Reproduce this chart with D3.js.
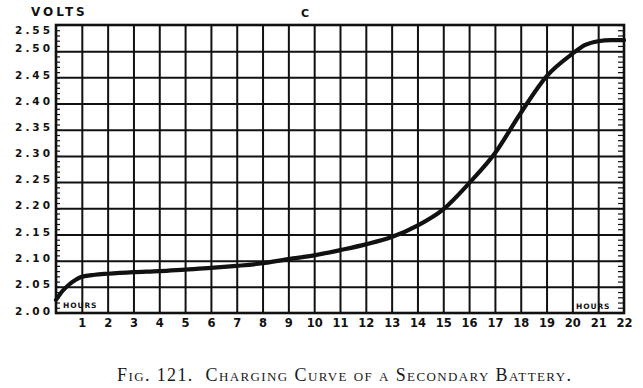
<!DOCTYPE html>
<html><head><meta charset="utf-8">
<script src="https://cdn.jsdelivr.net/npm/d3@7"></script>
<style>body{margin:0;background:#fff} svg{display:block}</style>
</head><body>
<svg id="c" width="643" height="388"></svg>
<script>
// ---- data ----
const hours = [0, 0.25, 0.5, 0.75, 1, 1.5, 2, 3, 4, 5, 6, 7, 8, 9, 10, 11, 12, 13, 14, 15, 16, 17, 18, 19, 20, 20.5, 21, 21.5, 22];
const volts = [2.025, 2.042, 2.054, 2.063, 2.069, 2.073, 2.075, 2.078, 2.080, 2.083, 2.086, 2.090, 2.095, 2.103, 2.110, 2.120, 2.131, 2.145, 2.167, 2.198, 2.248, 2.305, 2.382, 2.452, 2.495, 2.512, 2.519, 2.521, 2.521];
const voltTicks = [2.00, 2.05, 2.10, 2.15, 2.20, 2.25, 2.30, 2.35, 2.40, 2.45, 2.50, 2.55];
const voltLabels = ["2.00", "2.05", "2.10", "2.15", "2.20", "2.25", "2.30", "2.35", "2.40", "2.45", "2.50", "2.55"];
const hourTicks = [1, 2, 3, 4, 5, 6, 7, 8, 9, 10, 11, 12, 13, 14, 15, 16, 17, 18, 19, 20, 21, 22];
const hourLabels = ["1", "2", "3", "4", "5", "6", "7", "8", "9", "10", "11", "12", "13", "14", "15", "16", "17", "18", "19", "20", "21", "22"];
const minorVoltTicks = d3.range(0, 56).map(i => 2.00 + i * 0.01);

// ---- layout ----
const L = 56, R = 624, T = 25, B = 313;
const ink = "#111";
const svg = d3.select("#c");
svg.append("rect").attr("width", 643).attr("height", 388).attr("fill", "#fff");

const x = d3.scaleLinear().domain([0, 22]).range([L, R]);
const y = d3.scaleLinear().domain([2.00, 2.55]).range([B, T]);

// grid: vertical (hours)
const gx = svg.append("g").attr("transform", `translate(0,${B})`)
  .call(d3.axisBottom(x).tickValues(hourTicks.slice(0, -1)).tickSize(-(B - T)).tickFormat(""));
gx.select(".domain").remove();
gx.selectAll(".tick line").attr("stroke", ink).attr("stroke-width", 2);

// grid: horizontal (volts)
const gy = svg.append("g").attr("transform", `translate(${L},0)`)
  .call(d3.axisLeft(y).tickValues(voltTicks.slice(1, -1)).tickSize(-(R - L)).tickFormat(""));
gy.select(".domain").remove();
gy.selectAll(".tick line").attr("stroke", ink).attr("stroke-width", 2);

// minor ticks left (inside) and right (inside)
const ml = svg.append("g").attr("transform", `translate(${L},0)`)
  .call(d3.axisRight(y).tickValues(minorVoltTicks).tickSize(4).tickFormat(""));
ml.select(".domain").remove();
ml.selectAll(".tick line").attr("stroke", ink).attr("stroke-width", 1.2);
const mr = svg.append("g").attr("transform", `translate(${R},0)`)
  .call(d3.axisLeft(y).tickValues(minorVoltTicks).tickSize(6).tickFormat(""));
mr.select(".domain").remove();
mr.selectAll(".tick line").attr("stroke", ink).attr("stroke-width", 1.2);

// frame
svg.append("rect").attr("x", L).attr("y", T).attr("width", R - L).attr("height", B - T)
  .attr("fill", "none").attr("stroke", ink).attr("stroke-width", 2.6);

// y labels
const yl = svg.append("g").attr("transform", `translate(${L - 5},0)`)
  .call(d3.axisLeft(y).tickValues(voltTicks).tickSize(0).tickFormat((d, i) => voltLabels[i]));
yl.select(".domain").remove();
yl.selectAll(".tick text")
  .attr("fill", ink).attr("font-family", "DejaVu Sans").attr("font-weight", "bold")
  .attr("font-size", 10.5).attr("letter-spacing", 3).attr("x", 2)
  .attr("y", d => d === 2.55 ? 5 : (d === 2.00 ? -2 : -3))
  .attr("dy", "0.35em");

// x labels
const xl = svg.append("g").attr("transform", `translate(0,${B + 3})`)
  .call(d3.axisBottom(x).tickValues(hourTicks).tickSize(0).tickFormat((d, i) => hourLabels[i]));
xl.select(".domain").remove();
xl.selectAll(".tick text")
  .attr("fill", ink).attr("font-family", "DejaVu Sans").attr("font-weight", "bold")
  .attr("font-size", 11.5);

// curve
const pts = hours.map((h, i) => [h, volts[i]]);
svg.append("path").datum(pts)
  .attr("d", d3.line().x(d => x(d[0])).y(d => y(d[1])).curve(d3.curveMonotoneX))
  .attr("fill", "none").attr("stroke", ink).attr("stroke-width", 4.2).attr("stroke-linecap", "round");

// texts
svg.append("text").attr("x", 31).attr("y", 16).text("VOLTS")
  .attr("fill", ink).attr("font-family", "DejaVu Sans").attr("font-weight", "bold")
  .attr("font-size", 12).attr("letter-spacing", 3);
svg.append("text").attr("x", 305).attr("y", 17).attr("text-anchor", "middle").text("C")
  .attr("fill", ink).attr("font-family", "DejaVu Sans").attr("font-weight", "bold").attr("font-size", 11);
svg.append("text").attr("x", 63).attr("y", 308).text("HOURS")
  .attr("fill", ink).attr("font-family", "DejaVu Sans").attr("font-weight", "bold")
  .attr("font-size", 7.5).attr("letter-spacing", 0.9);
svg.append("text").attr("x", 576).attr("y", 309).text("HOURS")
  .attr("fill", ink).attr("font-family", "DejaVu Sans").attr("font-weight", "bold")
  .attr("font-size", 7.5).attr("letter-spacing", 0.9);

// caption
svg.append("text").attr("x", 117).attr("y", 381)
  .attr("xml:space", "preserve")
  .attr("fill", "#1a1a1a").attr("font-family", "Liberation Serif").attr("font-size", 18)
  .style("font-variant", "small-caps").style("white-space", "pre")
  .attr("textLength", 454).attr("lengthAdjust", "spacing")
  .text("Fig. 121.  Charging Curve of a Secondary Battery.");
</script>
</body></html>
